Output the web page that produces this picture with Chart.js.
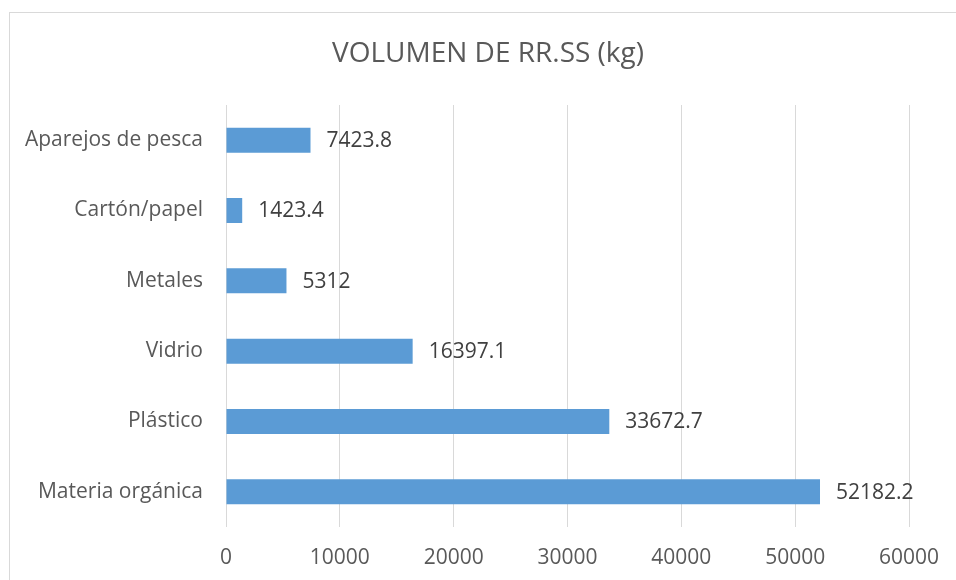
<!DOCTYPE html>
<html>
<head>
<meta charset="utf-8">
<script src="https://cdn.jsdelivr.net/npm/chart.js@4.4.1/dist/chart.umd.min.js"></script>
<style>
  html, body { margin: 0; padding: 0; background: #ffffff; }
  #wrap { position: relative; width: 956px; height: 580px; overflow: hidden; }
  #frame { position: absolute; left: 9px; top: 12px; width: 980px; height: 620px; border: 1px solid #d9d9d9; box-sizing: border-box; }
  canvas { position: absolute; left: 0; top: 0; }
</style>
</head>
<body>
<div id="wrap">
  <div id="frame"></div>
  <canvas id="c" width="976" height="580"></canvas>
</div>
<script>
const chartTitle = "VOLUMEN DE RR.SS (kg)";
const categories = ["Aparejos de pesca", "Cartón/papel", "Metales", "Vidrio", "Plástico", "Materia orgánica"];
const values = [7423.8, 1423.4, 5312, 16397.1, 33672.7, 52182.2];
const valueLabels = ["7423.8", "1423.4", "5312", "16397.1", "33672.7", "52182.2"];
const xTicks = [0, 10000, 20000, 30000, 40000, 50000, 60000];

const FONT = "'Open Sans', sans-serif";

const dataLabelPlugin = {
  id: 'dataLabels',
  afterDatasetsDraw(chart) {
    const ctx = chart.ctx;
    const meta = chart.getDatasetMeta(0);
    ctx.save();
    ctx.font = "21px " + FONT;
    ctx.fillStyle = "#404040";
    ctx.textAlign = "left";
    ctx.textBaseline = "middle";
    meta.data.forEach((bar, i) => {
      ctx.fillText(valueLabels[i], bar.x + 16, bar.y + 1);
    });
    ctx.restore();
  }
};

new Chart(document.getElementById('c'), {
  type: 'bar',
  data: {
    labels: categories,
    datasets: [{
      data: values,
      backgroundColor: '#5b9bd5',
      borderWidth: 0,
      categoryPercentage: 1,
      barPercentage: 0.355
    }]
  },
  options: {
    indexAxis: 'y',
    responsive: false,
    animation: false,
    devicePixelRatio: 1,
    layout: { padding: { left: 0, right: 0, top: 0, bottom: 0 } },
    plugins: {
      legend: { display: false },
      tooltip: { enabled: false },
      title: {
        display: true,
        text: chartTitle,
        color: '#595959',
        font: { family: FONT, size: 28, weight: 'normal', lineHeight: 1.2 },
        padding: { top: 37.2, bottom: 34.2 }
      }
    },
    scales: {
      x: {
        min: 0,
        max: 60000,
        afterBuildTicks(scale) { scale.ticks = xTicks.map(v => ({ value: v })); },
        afterFit(scale) { scale.height = 53; },
        grid: { color: '#d9d9d9', lineWidth: 1, drawTicks: false },
        border: { display: false },
        ticks: {
          color: '#595959',
          font: { family: FONT, size: 21 },
          padding: 18,
          maxRotation: 0,
          callback: (v) => String(v)
        }
      },
      y: {
        afterFit(scale) { scale.width = 226; },
        grid: { display: false, drawTicks: false },
        border: { display: false },
        ticks: {
          color: '#595959',
          font: { family: FONT, size: 21 },
          padding: 23
        }
      },
      yRightSpace: {
        type: 'category',
        position: 'right',
        display: true,
        afterFit(scale) { scale.width = 67; },
        grid: { display: false, drawTicks: false },
        border: { display: false },
        ticks: { display: false }
      }
    }
  },
  plugins: [dataLabelPlugin]
});
</script>
</body>
</html>
